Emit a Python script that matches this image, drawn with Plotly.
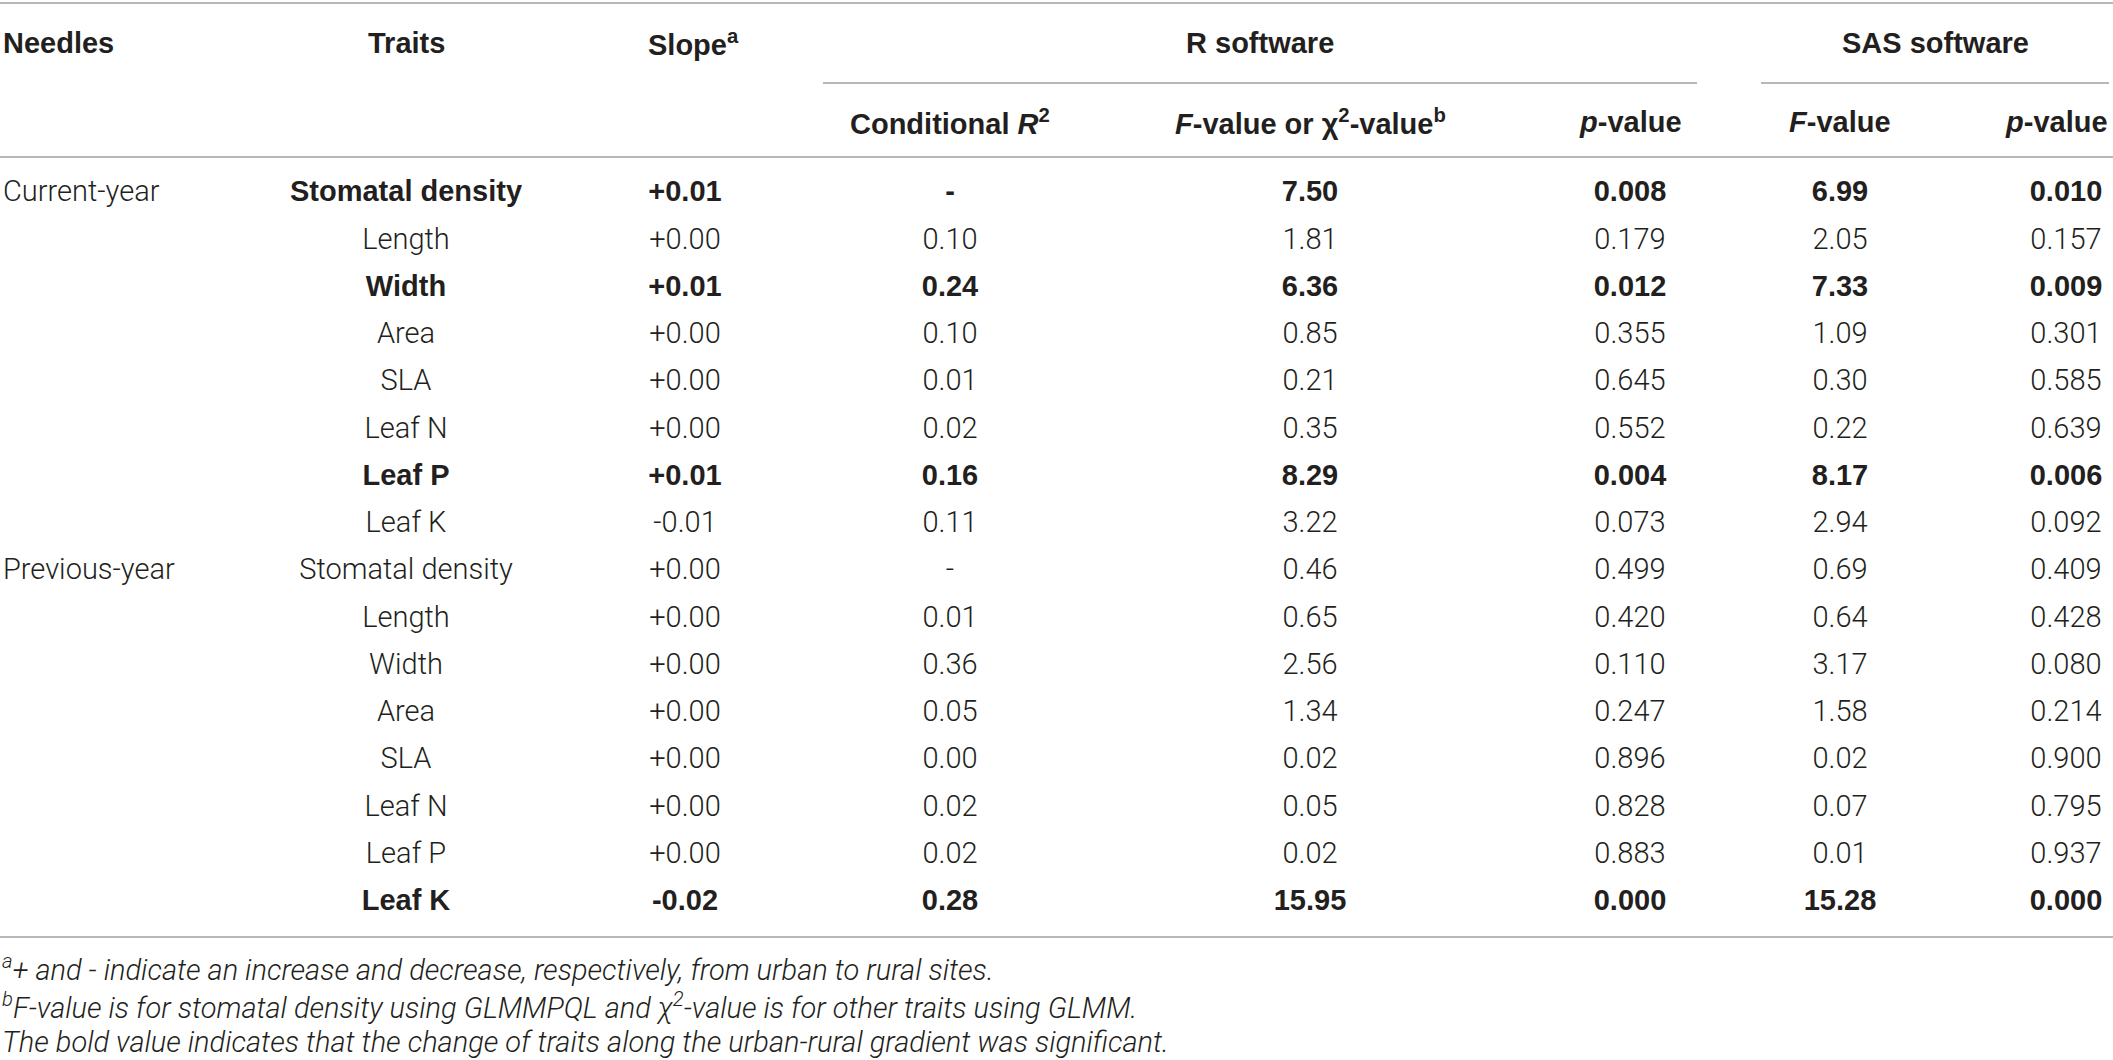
import plotly.graph_objects as go

# table content
needles = ["Current-year", "", "", "", "", "", "", "",
           "Previous-year", "", "", "", "", "", "", ""]
traits = ["Stomatal density", "Length", "Width", "Area", "SLA", "Leaf N", "Leaf P", "Leaf K",
          "Stomatal density", "Length", "Width", "Area", "SLA", "Leaf N", "Leaf P", "Leaf K"]
slope = ["+0.01", "+0.00", "+0.01", "+0.00", "+0.00", "+0.00", "+0.01", "-0.01",
         "+0.00", "+0.00", "+0.00", "+0.00", "+0.00", "+0.00", "+0.00", "-0.02"]
cond_r2 = ["-", "0.10", "0.24", "0.10", "0.01", "0.02", "0.16", "0.11",
           "-", "0.01", "0.36", "0.05", "0.00", "0.02", "0.02", "0.28"]
f_chi_r = ["7.50", "1.81", "6.36", "0.85", "0.21", "0.35", "8.29", "3.22",
           "0.46", "0.65", "2.56", "1.34", "0.02", "0.05", "0.02", "15.95"]
p_r = ["0.008", "0.179", "0.012", "0.355", "0.645", "0.552", "0.004", "0.073",
       "0.499", "0.420", "0.110", "0.247", "0.896", "0.828", "0.883", "0.000"]
f_sas = ["6.99", "2.05", "7.33", "1.09", "0.30", "0.22", "8.17", "2.94",
         "0.69", "0.64", "3.17", "1.58", "0.02", "0.07", "0.01", "15.28"]
p_sas = ["0.010", "0.157", "0.009", "0.301", "0.585", "0.639", "0.006", "0.092",
         "0.409", "0.428", "0.080", "0.214", "0.900", "0.795", "0.937", "0.000"]
significant = [True, False, True, False, False, False, True, False,
               False, False, False, False, False, False, False, True]

footnotes = [
    "<sup>a</sup>+ and - indicate an increase and decrease, respectively, from urban to rural sites.",
    "<sup>b</sup>F-value is for stomatal density using GLMMPQL and χ<sup>2</sup>-value is for other traits using GLMM.",
    "The bold value indicates that the change of traits along the urban-rural gradient was significant.",
]

W, H = 2113, 1060
INK = "#231f20"
RULE = "#b8b8b8"
LIGHT = "Roboto, 'Liberation Sans', Arial, sans-serif"
BOLD = "'Liberation Sans', Arial, Helvetica, sans-serif"

ROW0, ROWSTEP = 194, 47.25   # pixel centre of first body row, row pitch


def row_of(py):
    # pixel height -> row units on the y axis
    return (py - ROW0) / ROWSTEP


def px(x):
    return x / W


# column anchors in pixels
cols = {"needles": 3, "traits": 406, "slope": 685, "r2": 950,
        "fchi": 1310, "pr": 1630, "fsas": 1840, "psas": 2066}

fig = go.Figure()
columns = [
    ("needles", needles, "middle right"),
    ("traits", traits, "middle center"),
    ("slope", slope, "middle center"),
    ("r2", cond_r2, "middle center"),
    ("fchi", f_chi_r, "middle center"),
    ("pr", p_r, "middle center"),
    ("fsas", f_sas, "middle center"),
    ("psas", p_sas, "middle center"),
]
for key, vals, pos in columns:
    for is_bold in (False, True):
        if key == "needles" and is_bold:
            continue
        idx = [i for i, v in enumerate(vals)
               if v and (key == "needles" or significant[i] == is_bold)]
        if not idx:
            continue
        font = (dict(family=BOLD, size=29, color=INK, weight=700) if is_bold
                else dict(family=LIGHT, size=29, color=INK, weight=300))
        fig.add_trace(go.Scatter(
            x=[px(cols[key])] * len(idx), y=idx, text=[vals[i] for i in idx],
            mode="text", textposition=pos, hoverinfo="skip", showlegend=False,
            textfont=font,
        ))

# header
hdr = dict(font=dict(family=BOLD, size=29, color=INK), showarrow=False,
           xref="x", yref="y", yanchor="middle")
top_y, sub_y = row_of(43), row_of(122)
fig.add_annotation(text="<b>Needles</b>", x=px(1), y=top_y, xanchor="left", **hdr)
fig.add_annotation(text="<b>Traits</b>", x=px(cols["traits"]), y=top_y, xanchor="center", **hdr)
fig.add_annotation(text="<b>Slope<sup>a</sup></b>", x=px(cols["slope"] + 8), y=top_y, xanchor="center", **hdr)
fig.add_annotation(text="<b>R software</b>", x=px(1260), y=top_y, xanchor="center", **hdr)
fig.add_annotation(text="<b>SAS software</b>", x=px(1935), y=top_y, xanchor="center", **hdr)
fig.add_annotation(text="<b>Conditional <i>R</i><sup>2</sup></b>", x=px(cols["r2"]), y=sub_y, xanchor="center", **hdr)
fig.add_annotation(text="<b><i>F</i>-value or χ<sup>2</sup>-value<sup>b</sup></b>", x=px(cols["fchi"]), y=sub_y, xanchor="center", **hdr)
fig.add_annotation(text="<b><i>p</i>-value</b>", x=px(cols["pr"]), y=sub_y, xanchor="center", **hdr)
fig.add_annotation(text="<b><i>F</i>-value</b>", x=px(cols["fsas"]), y=sub_y, xanchor="center", **hdr)
fig.add_annotation(text="<b><i>p</i>-value</b>", x=px(2110), y=sub_y, xanchor="right", **hdr)

# rules
rule = dict(type="line", xref="x", yref="y", line=dict(color=RULE, width=2))
fig.add_shape(x0=0, x1=1, y0=row_of(3), y1=row_of(3), **rule)
fig.add_shape(x0=px(823), x1=px(1697), y0=row_of(83), y1=row_of(83), **rule)
fig.add_shape(x0=px(1761), x1=px(2109), y0=row_of(83), y1=row_of(83), **rule)
fig.add_shape(x0=0, x1=1, y0=row_of(157), y1=row_of(157), **rule)
fig.add_shape(x0=0, x1=1, y0=row_of(937), y1=row_of(937), **rule)

# footnotes
for t, py in zip(footnotes, (968, 1006, 1042)):
    fig.add_annotation(text="<i>%s</i>" % t, x=0, y=row_of(py),
                       xref="x", yref="y", xanchor="left", yanchor="middle", showarrow=False,
                       font=dict(family=LIGHT, size=29, color=INK, weight=300))

fig.update_xaxes(visible=False, range=[0, 1], fixedrange=True)
fig.update_yaxes(visible=False, range=[row_of(H), row_of(0)], fixedrange=True)
fig.update_layout(width=W, height=H, margin=dict(l=0, r=0, t=0, b=0),
                  plot_bgcolor="white", paper_bgcolor="white")

fig.write_html("out.html", config={"displayModeBar": False},
               post_script="document.body.style.margin='0';")
